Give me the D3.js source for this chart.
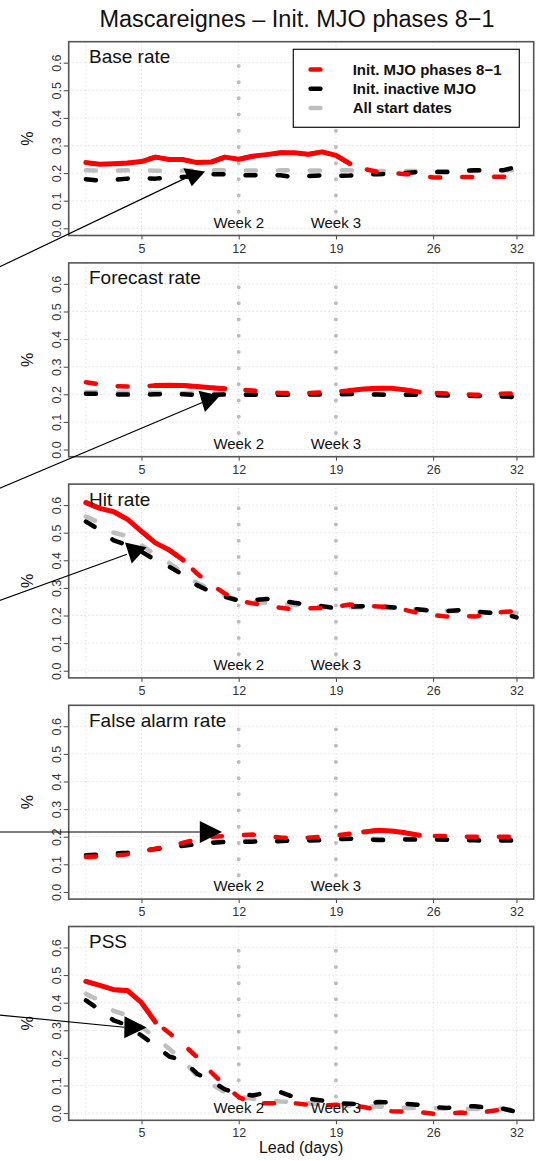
<!DOCTYPE html>
<html>
<head>
<meta charset="utf-8">
<script src="https://cdn.jsdelivr.net/npm/d3@7"></script>
<style>
  body { margin: 0; background: #fff; }
  svg text { font-family: "Liberation Sans", Arial, Helvetica, sans-serif; }
</style>
</head>
<body>
<svg id="chart" width="536" height="1161"></svg>
<script>
// lead days and axis ticks
const leadDays = d3.range(1, 33);
const xTicks = [5, 12, 19, 26, 32];
const xGrid = [1, 5, 12, 19, 26, 32];
const yTicks = [0, 0.1, 0.2, 0.3, 0.4, 0.5, 0.6];
const weekDays = [12, 19];
const weekLabels = ["Week 2", "Week 3"];
const panelNames = ["Base rate", "Forecast rate", "Hit rate", "False alarm rate", "PSS"];
const seriesNames = ["Init. MJO phases 8\u22121", "Init. inactive MJO", "All start dates"];

// Base rate
const mjoBase = [0.238,0.232,0.234,0.237,0.242,0.258,0.249,0.249,0.238,0.240,0.258,0.250,0.261,0.267,0.274,0.274,0.268,0.277,0.264,0.234,0.216,0.204,0.202,0.196,0.194,0.184,0.184,0.186,0.186,0.186,0.187,0.186];
const inactiveBase = [0.178,0.173,0.175,0.180,0.182,0.180,0.184,0.186,0.190,0.196,0.196,0.192,0.192,0.194,0.192,0.186,0.189,0.192,0.190,0.191,0.196,0.196,0.198,0.200,0.204,0.204,0.204,0.208,0.210,0.210,0.210,0.222];
const allBase = [0.210,0.209,0.209,0.210,0.211,0.209,0.208,0.209,0.210,0.211,0.210,0.209,0.209,0.209,0.210,0.210,0.209,0.210,0.211,0.210,0.209,0.208,0.208,0.208,0.207,0.207,0.207,0.208,0.208,0.209,0.210,0.210];

// Forecast rate
const mjoForecast = [0.244,0.236,0.230,0.228,0.228,0.232,0.233,0.232,0.228,0.224,0.220,0.217,0.214,0.208,0.205,0.204,0.205,0.207,0.210,0.214,0.219,0.222,0.222,0.216,0.208,0.205,0.203,0.200,0.198,0.200,0.202,0.203];
const inactiveForecast = [0.202,0.202,0.200,0.199,0.198,0.200,0.202,0.200,0.198,0.198,0.199,0.198,0.198,0.198,0.198,0.198,0.199,0.199,0.200,0.201,0.200,0.199,0.198,0.198,0.198,0.197,0.196,0.195,0.194,0.193,0.192,0.190];
const allForecast = [0.208,0.208,0.207,0.207,0.206,0.206,0.206,0.205,0.204,0.204,0.203,0.202,0.202,0.202,0.201,0.201,0.201,0.201,0.201,0.201,0.201,0.200,0.200,0.200,0.199,0.199,0.198,0.197,0.197,0.196,0.196,0.195];

// Hit rate
const mjoHit = [0.609,0.588,0.576,0.548,0.505,0.463,0.437,0.401,0.352,0.312,0.280,0.254,0.244,0.236,0.228,0.222,0.226,0.227,0.232,0.240,0.235,0.233,0.230,0.220,0.208,0.202,0.196,0.200,0.196,0.205,0.213,0.216];
const inactiveHit = [0.540,0.510,0.472,0.455,0.431,0.401,0.377,0.347,0.310,0.286,0.268,0.254,0.256,0.260,0.254,0.246,0.240,0.234,0.226,0.232,0.234,0.234,0.230,0.226,0.222,0.216,0.216,0.220,0.214,0.210,0.208,0.193];
const allHit = [0.558,0.536,0.500,0.488,0.455,0.420,0.390,0.355,0.318,0.295,0.272,0.256,0.250,0.246,0.242,0.238,0.235,0.232,0.230,0.230,0.229,0.228,0.227,0.225,0.222,0.219,0.217,0.215,0.213,0.212,0.211,0.210];

// False alarm rate
const mjoFalse = [0.127,0.129,0.132,0.136,0.145,0.157,0.165,0.178,0.190,0.200,0.202,0.205,0.208,0.202,0.197,0.196,0.196,0.200,0.205,0.211,0.217,0.223,0.221,0.214,0.205,0.203,0.202,0.200,0.200,0.200,0.200,0.200];
const inactiveFalse = [0.133,0.135,0.139,0.142,0.149,0.155,0.161,0.167,0.173,0.178,0.181,0.182,0.182,0.184,0.184,0.186,0.186,0.188,0.191,0.193,0.191,0.188,0.188,0.190,0.190,0.190,0.189,0.187,0.187,0.186,0.186,0.186];
const allFalse = [0.123,0.127,0.132,0.138,0.146,0.154,0.161,0.168,0.175,0.180,0.183,0.185,0.186,0.187,0.188,0.189,0.189,0.190,0.191,0.192,0.192,0.192,0.192,0.192,0.192,0.191,0.191,0.190,0.190,0.190,0.189,0.189];

// PSS
const mjoPss = [0.477,0.463,0.447,0.444,0.400,0.330,0.290,0.249,0.203,0.149,0.100,0.058,0.036,0.036,0.036,0.036,0.030,0.028,0.030,0.028,0.022,0.012,0.007,0.005,0.004,-0.002,-0.002,0.002,-0.002,0.007,0.013,0.004];
const inactivePss = [0.408,0.374,0.336,0.318,0.281,0.245,0.205,0.191,0.143,0.118,0.086,0.070,0.064,0.074,0.076,0.058,0.052,0.046,0.036,0.034,0.031,0.040,0.039,0.034,0.030,0.022,0.019,0.024,0.025,0.018,0.016,0.005];
const allPss = [0.432,0.408,0.370,0.354,0.312,0.275,0.233,0.190,0.136,0.106,0.076,0.060,0.052,0.048,0.042,0.040,0.036,0.031,0.030,0.027,0.024,0.024,0.022,0.019,0.018,0.018,0.016,0.016,0.015,0.015,0.016,0.012];

const mjoSeries = [mjoBase, mjoForecast, mjoHit, mjoFalse, mjoPss];
const inactiveSeries = [inactiveBase, inactiveForecast, inactiveHit, inactiveFalse, inactivePss];
const allSeries = [allBase, allForecast, allHit, allFalse, allPss];

// lead-day ranges where the MJO line is drawn solid
const mjoSolid = [[[1, 20]], [[6, 11], [20, 25]], [[1, 8]], [[21, 25]], [[1, 6]]];

// annotation arrows, in (lead day, value) units of each panel
const arrowFrom = [[-6.6, -0.173], [-6.6, -0.170], [-6.6, 0.229], [-6.6, 0.217], [-6.6, 0.362]];
const arrowTo = [[8.13, 0.181], [9.42, 0.171], [3.96, 0.422], [9.2, 0.217], [3.77, 0.311]];
const headBase = [[8.80, 0.212], [9.88, 0.204], [4.59, 0.456], [9.2, 0.217], [3.77, 0.311]];
const headTip = [[8.62, 0.152], [9.57, 0.136], [4.30, 0.388], [10.8, 0.217], [5.37, 0.310]];

const colors = { mjo: "#ff0000", inactive: "#000000", all: "#bebebe" };

const svg = d3.select("#chart");
const left = 68.7, right = 533.7;
const panelTop = 41.7, panelStep = 221.2, panelH = 193.8;

const x = d3.scaleLinear().domain([-0.24, 33.24]).range([left, right]);
const y = d3.scaleLinear().domain([-0.026, 0.676]).range([panelH, 0]);

svg.append("text")
  .attr("x", 297)
  .attr("y", 26.7)
  .attr("text-anchor", "middle")
  .attr("font-size", 23.5)
  .attr("fill", "#111")
  .text("Mascareignes \u2013 Init. MJO phases 8\u22121");

const line = d3.line()
  .x((d) => x(d[0]))
  .y((d) => y(d[1]));

function points(values) {
  return values.map((v, i) => [leadDays[i], v]);
}

const arrowLayer = [];

panelNames.forEach((name, p) => {
  const g = svg.append("g").attr("transform", `translate(0, ${panelTop + p * panelStep})`);

  // light grid
  g.selectAll(".vgrid")
    .data(xGrid)
    .enter()
    .append("line")
    .attr("x1", (d) => x(d))
    .attr("x2", (d) => x(d))
    .attr("y1", 0)
    .attr("y2", panelH)
    .attr("stroke", "#d3d3d3")
    .attr("stroke-dasharray", "1,3");
  g.selectAll(".hgrid")
    .data(yTicks)
    .enter()
    .append("line")
    .attr("x1", left)
    .attr("x2", right)
    .attr("y1", (d) => y(d))
    .attr("y2", (d) => y(d))
    .attr("stroke", "#d3d3d3")
    .attr("stroke-dasharray", "1,3");

  // week markers
  g.selectAll(".week")
    .data(weekDays)
    .enter()
    .append("line")
    .attr("x1", (d) => x(d))
    .attr("x2", (d) => x(d))
    .attr("y1", y(0.06))
    .attr("y2", y(0.645))
    .attr("stroke", "#bdbdbd")
    .attr("stroke-width", 4)
    .attr("stroke-linecap", "round")
    .attr("stroke-dasharray", "0,16.2");

  // series
  const dashed = (values, color) => {
    g.append("path")
      .attr("d", line(points(values)))
      .attr("fill", "none")
      .attr("stroke", color)
      .attr("stroke-width", 4.5)
      .attr("stroke-linecap", "round")
      .attr("stroke-linejoin", "round")
      .attr("stroke-dasharray", "10,22");
  };
  dashed(allSeries[p], colors.all);
  dashed(inactiveSeries[p], colors.inactive);
  dashed(mjoSeries[p], colors.mjo);
  mjoSolid[p].forEach(([a, b]) => {
    const seg = points(mjoSeries[p]).filter((d) => d[0] >= a && d[0] <= b);
    g.append("path")
      .attr("d", line(seg))
      .attr("fill", "none")
      .attr("stroke", colors.mjo)
      .attr("stroke-width", 5)
      .attr("stroke-linecap", "round")
      .attr("stroke-linejoin", "round");
  });

  // week labels
  g.selectAll(".weeklab")
    .data(weekDays)
    .enter()
    .append("text")
    .attr("x", (d) => x(d))
    .attr("y", y(0) - 0.6)
    .attr("text-anchor", "middle")
    .attr("font-size", 15)
    .attr("fill", "#111")
    .text((d, i) => weekLabels[i]);

  // axes
  const xAxis = g.append("g")
    .attr("transform", `translate(0, ${panelH})`)
    .call(d3.axisBottom(x).tickValues(xTicks).tickSize(4).tickPadding(4.3));
  xAxis.select(".domain").remove();
  xAxis.selectAll("line").attr("stroke", "#444");
  xAxis.selectAll("text")
    .attr("font-size", 12.5)
    .attr("font-family", "Liberation Sans, Arial, sans-serif")
    .attr("fill", "#333");

  const yAxis = g.append("g")
    .attr("transform", `translate(${left}, 0)`)
    .call(d3.axisLeft(y).tickValues(yTicks).tickSize(5).tickFormat(d3.format(".1f")));
  yAxis.select(".domain").remove();
  yAxis.selectAll("line").attr("stroke", "#444");
  yAxis.selectAll("text")
    .attr("transform", "rotate(-90)")
    .attr("x", 0)
    .attr("y", -7.5)
    .attr("dy", 0)
    .attr("text-anchor", "middle")
    .attr("font-size", 12.5)
    .attr("font-family", "Liberation Sans, Arial, sans-serif")
    .attr("fill", "#333");

  g.append("text")
    .attr("transform", `translate(33, ${panelH / 2}) rotate(-90)`)
    .attr("text-anchor", "middle")
    .attr("font-size", 16)
    .attr("fill", "#111")
    .text("%");

  // box
  g.append("rect")
    .attr("x", left)
    .attr("y", 0)
    .attr("width", right - left)
    .attr("height", panelH)
    .attr("fill", "none")
    .attr("stroke", "#555")
    .attr("stroke-width", 1.6);

  g.append("text")
    .attr("x", 89)
    .attr("y", 21.6)
    .attr("font-size", 19)
    .attr("fill", "#111")
    .text(name);

  if (p === 0) {
    const legend = g.append("g");
    legend.append("rect")
      .attr("x", 293.3)
      .attr("y", 7.6)
      .attr("width", 226)
      .attr("height", 78)
      .attr("fill", "#fff")
      .attr("stroke", "#111")
      .attr("stroke-width", 1.2);
    const entries = [colors.mjo, colors.inactive, colors.all];
    entries.forEach((c, i) => {
      const ly = 27.8 + i * 19.2;
      legend.append("line")
        .attr("x1", 310.6)
        .attr("x2", 320.4)
        .attr("y1", ly)
        .attr("y2", ly)
        .attr("stroke", c)
        .attr("stroke-width", 4.5)
        .attr("stroke-linecap", "round");
      legend.append("text")
        .attr("x", 352.7)
        .attr("y", ly + 5.2)
        .attr("font-size", 15)
        .attr("font-weight", "bold")
        .attr("fill", "#111")
        .text(seriesNames[i]);
    });
  }

  arrowLayer.push(g);
});

// arrows on top of everything
arrowLayer.forEach((g, p) => {
  const a = g.append("g").raise();
  a.append("line")
    .attr("x1", x(arrowFrom[p][0]))
    .attr("y1", y(arrowFrom[p][1]))
    .attr("x2", x(arrowTo[p][0]))
    .attr("y2", y(arrowTo[p][1]))
    .attr("stroke", "#000")
    .attr("stroke-width", 1.2);
  const bx = x(headBase[p][0]), by = y(headBase[p][1]);
  const tx = x(headTip[p][0]), ty = y(headTip[p][1]);
  const len = Math.hypot(tx - bx, ty - by);
  const px = -(ty - by) / len, py = (tx - bx) / len;
  const hw = 11;
  a.append("polygon")
    .attr("points", [[bx + px * hw, by + py * hw], [tx, ty], [bx - px * hw, by - py * hw]].map((d) => d.join(",")).join(" "))
    .attr("fill", "#000");
});

svg.append("text")
  .attr("x", (left + right) / 2)
  .attr("y", 1153)
  .attr("text-anchor", "middle")
  .attr("font-size", 16)
  .attr("fill", "#111")
  .text("Lead (days)");
</script>
</body>
</html>
